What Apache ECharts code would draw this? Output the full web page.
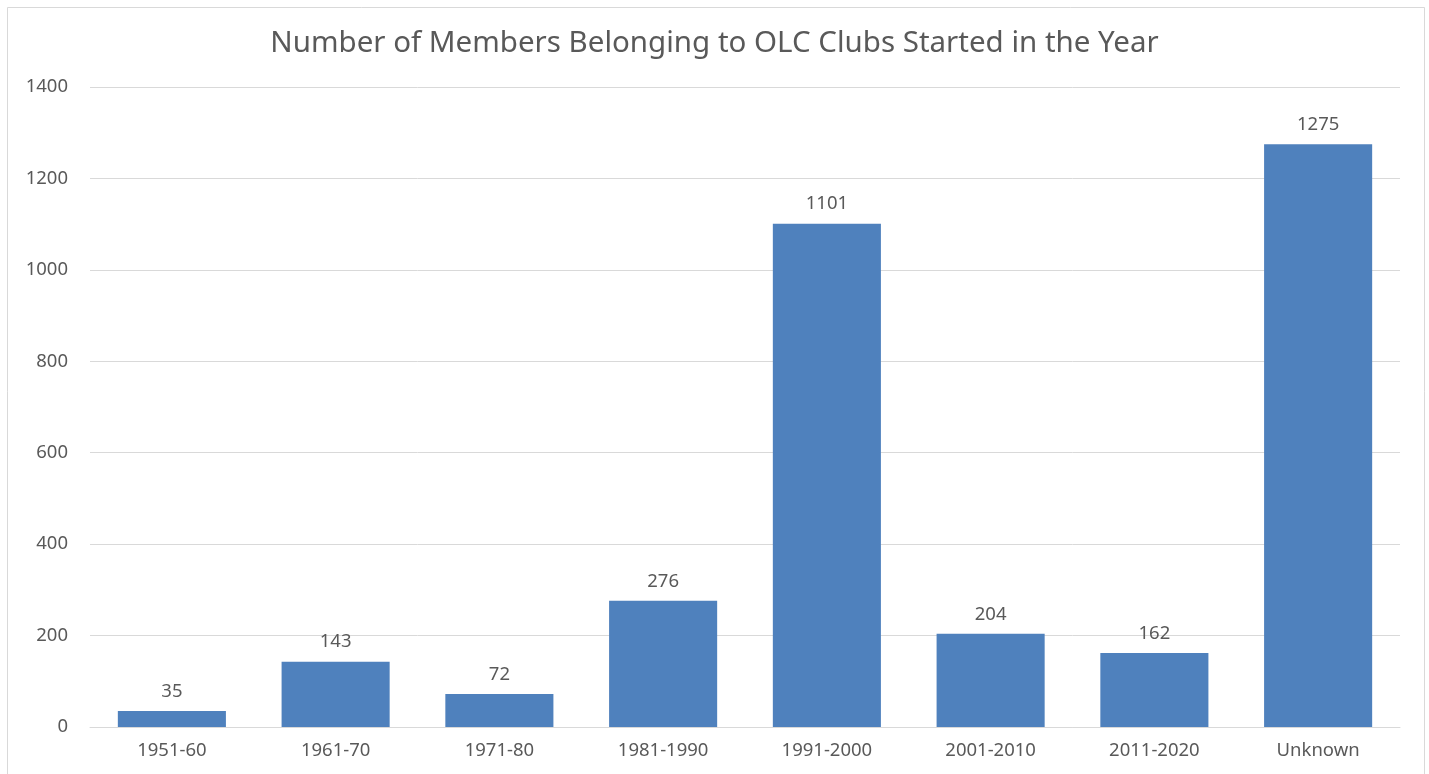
<!DOCTYPE html>
<html><head><meta charset="utf-8">
<script src="https://cdn.jsdelivr.net/npm/echarts@6/dist/echarts.min.js"></script>
<style>html,body{margin:0;padding:0;background:#fff}#c{width:1429px;height:774px}</style>
</head><body><div id="c"></div>
<script>
const categories = ['1951-60','1961-70','1971-80','1981-1990','1991-2000','2001-2010','2011-2020','Unknown'];
const members = [35,143,72,276,1101,204,162,1275];
const yTicks = [0,200,400,600,800,1000,1200,1400];
const titleText = 'Number of Members Belonging to OLC Clubs Started in the Year';

const chart = echarts.init(document.getElementById('c'), null, {renderer:'canvas'});
const font = '"Noto Sans", "Open Sans", sans-serif';
chart.setOption({
  animation:false,
  backgroundColor:'#fff',
  graphic:[{type:'rect',shape:{x:7.5,y:7.5,width:1417,height:780},style:{fill:'none',stroke:'#d9d9d9',lineWidth:1},silent:true}],
  title:{text:titleText,left:'center',top:24,textStyle:{fontFamily:font,fontSize:29.5,fontWeight:'normal',color:'#595959'}},
  grid:{left:90,right:29,top:87,bottom:47,containLabel:false},
  xAxis:{type:'category',data:categories,
    axisLine:{lineStyle:{color:'#d9d9d9'}},axisTick:{show:false},
    axisLabel:{fontFamily:font,fontSize:18.5,color:'#595959',margin:14}},
  yAxis:{type:'value',min:yTicks[0],max:yTicks[yTicks.length-1],interval:200,
    axisLine:{show:false},axisTick:{show:false},
    splitLine:{lineStyle:{color:'#d9d9d9'}},
    axisLabel:{fontFamily:font,fontSize:18.5,color:'#595959',margin:22,formatter:v=>String(v)}},
  series:[{type:'bar',data:members,barWidth:'66%',
    itemStyle:{color:'#4f81bd'},
    label:{show:true,position:'top',distance:10,fontFamily:font,fontSize:18.5,color:'#595959'}}]
});
</script></body></html>
